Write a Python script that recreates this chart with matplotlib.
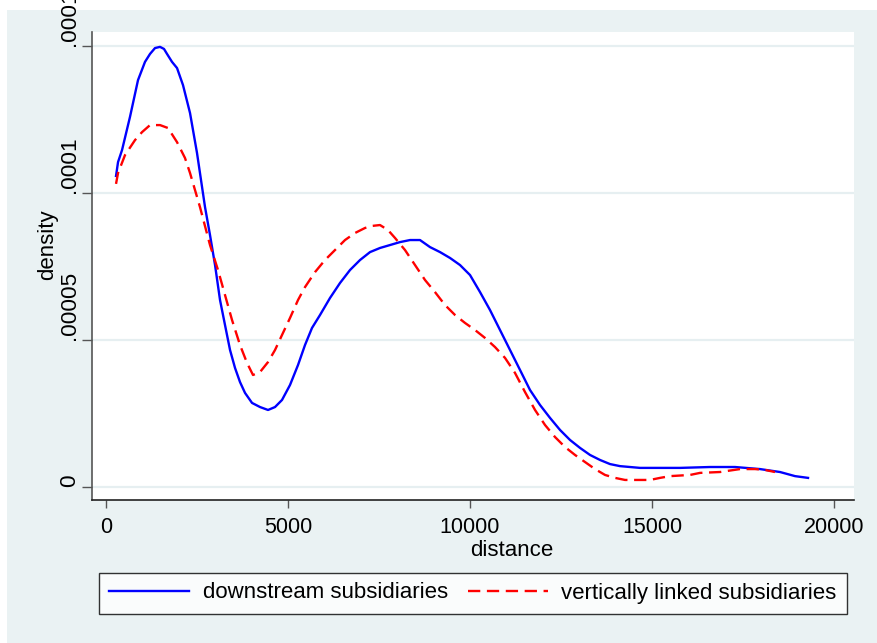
import matplotlib
matplotlib.use("Agg")
import matplotlib.pyplot as plt
from matplotlib.patches import Rectangle

plt.rcParams['font.family'] = ['Liberation Sans', 'DejaVu Sans']

# downstream subsidiaries (blue, solid)
down_x = [275, 330, 440, 659, 879, 1071, 1209, 1346, 1484, 1593, 1676, 1813, 1951, 2115,
          2308, 2500, 2720, 2857, 2995, 3132, 3269, 3407, 3544, 3681, 3819, 4011, 4231,
          4451, 4643, 4835, 5055, 5275, 5467, 5659, 5879, 6154, 6429, 6703, 6978, 7253,
          7527, 7802, 8077, 8352, 8626, 8901, 9176, 9451, 9725, 10000, 10275, 10549,
          10824, 11099, 11374, 11648, 11923, 12198, 12473, 12747, 13022, 13297, 13571,
          13846, 14121, 14670, 15769, 16593, 17280, 17967, 18516, 18929, 19286]
down_y = [1.058, 1.105, 1.146, 1.259, 1.384, 1.446, 1.473, 1.493, 1.497, 1.490, 1.473,
          1.446, 1.425, 1.367, 1.272, 1.136, 0.952, 0.857, 0.755, 0.636, 0.551, 0.466,
          0.405, 0.357, 0.320, 0.286, 0.272, 0.262, 0.272, 0.296, 0.347, 0.415, 0.483,
          0.541, 0.585, 0.643, 0.694, 0.738, 0.772, 0.799, 0.813, 0.823, 0.833, 0.840,
          0.840, 0.816, 0.799, 0.779, 0.755, 0.721, 0.663, 0.602, 0.534, 0.466, 0.398,
          0.330, 0.279, 0.235, 0.194, 0.160, 0.133, 0.109, 0.092, 0.078, 0.071, 0.065,
          0.065, 0.068, 0.068, 0.061, 0.051, 0.037, 0.031]

# vertically linked subsidiaries (red, dashed)
vert_x = [275, 330, 522, 797, 989, 1209, 1484, 1703, 1951, 2170, 2308, 2445, 2582, 2857,
          3077, 3269, 3462, 3681, 3874, 4038, 4231, 4451, 4643, 4835, 5055, 5275, 5467,
          5742, 6016, 6291, 6566, 6841, 7115, 7308, 7527, 7747, 7940, 8214, 8489, 8764,
          9038, 9313, 9588, 9863, 10137, 10412, 10687, 10962, 11236, 11511, 11786, 12060,
          12335, 12610, 12885, 13159, 13434, 13709, 13984, 14258, 14945, 15220, 15495,
          16044, 16319, 16868, 17418, 17830, 18104, 18379]
vert_y = [1.031, 1.068, 1.129, 1.180, 1.207, 1.231, 1.231, 1.221, 1.173, 1.119, 1.068,
          1.010, 0.952, 0.823, 0.738, 0.653, 0.568, 0.483, 0.422, 0.381, 0.391, 0.425,
          0.466, 0.517, 0.575, 0.636, 0.680, 0.731, 0.772, 0.806, 0.840, 0.864, 0.881,
          0.888, 0.891, 0.874, 0.847, 0.806, 0.755, 0.704, 0.663, 0.619, 0.585, 0.558,
          0.534, 0.507, 0.476, 0.439, 0.388, 0.323, 0.262, 0.211, 0.170, 0.136, 0.109,
          0.085, 0.061, 0.041, 0.031, 0.024, 0.024, 0.031, 0.037, 0.041, 0.048, 0.051,
          0.061, 0.061, 0.058, 0.051]

scale = 1e-4
x_ticks = [0, 5000, 10000, 15000, 20000]
x_tick_labels = ['0', '5000', '10000', '15000', '20000']
y_ticks = [0, 0.00005, 0.0001, 0.00015]
y_tick_labels = ['0', '.00005', '.0001', '.00015']

W, H = 878, 643
fig = plt.figure(figsize=(W / 100, H / 100), dpi=100, facecolor='white')
bg = '#EAF2F3'
fig.patches.append(Rectangle((7 / W, 0), (W - 7) / W, (H - 10) / H,
                             transform=fig.transFigure, facecolor=bg,
                             edgecolor='none', zorder=-10))

L, R, T, B = 92, 854, 32, 500
ax = fig.add_axes([L / W, 1 - B / H, (R - L) / W, (B - T) / H])
ax.set_facecolor('white')

ax.plot(down_x, [v * scale for v in down_y], color='#0000FF', lw=1.7,
        label='downstream subsidiaries', solid_joinstyle='round')
ax.plot(vert_x, [v * scale for v in vert_y], color='#FF0000', lw=1.7,
        dashes=(5.2, 2.8), label='vertically linked subsidiaries')

ax.set_xlim(-385, 20549)
ax.set_ylim(-0.442e-5, 1.5476e-4)

ax.set_xticks(x_ticks)
ax.set_xticklabels(x_tick_labels)
ax.set_yticks(y_ticks)
ax.set_yticklabels(y_tick_labels, rotation=90, va='bottom')

ax.grid(axis='y', color='#E6EFF1', lw=1.6)
ax.set_axisbelow(True)

for s in ['top', 'right']:
    ax.spines[s].set_visible(False)
ax.spines['left'].set_color('#555555')
ax.spines['bottom'].set_color('#222222')
ax.spines['left'].set_linewidth(1.2)
ax.spines['bottom'].set_linewidth(1.2)

ax.tick_params(axis='y', length=7.2, width=1, color='#555555', pad=1.5, labelsize=16.2)
ax.tick_params(axis='x', length=6, width=1, color='#555555', pad=6, labelsize=15.5)

fs = 16
fig.text(48 / W, 1 - 245 / H, 'density', rotation=90, ha='center', va='center', fontsize=fs)
fig.text(512 / W, 1 - 551 / H, 'distance', ha='center', va='center', fontsize=fs)

leg = fig.legend(loc='center', bbox_to_anchor=(473 / W, 1 - 593 / H), ncol=2,
                 fontsize=fs, frameon=True, fancybox=False, handlelength=3.6,
                 handletextpad=0.6, columnspacing=0.9, borderpad=0.45)
leg.get_frame().set_edgecolor('black')
leg.get_frame().set_linewidth(1.0)
leg.get_frame().set_facecolor('white')

fig.savefig('out.png', dpi=100, facecolor='white')
